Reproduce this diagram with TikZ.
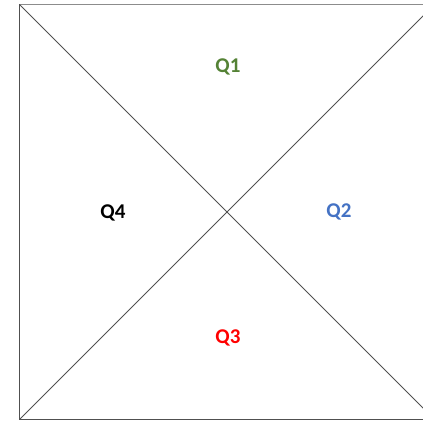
\documentclass[tikz,border=0pt]{standalone}
\usepackage{fontspec}
\setmainfont{Carlito}
\definecolor{qgreen}{HTML}{548235}
\definecolor{qblue}{HTML}{4472C4}
\definecolor{qred}{HTML}{FF0000}
\definecolor{edgegray}{HTML}{505050}
\definecolor{topgray}{HTML}{8C8C8C}
\begin{document}
\begin{tikzpicture}[x=1pt,y=1pt,
  qlabel/.style={font=\fontsize{21}{24}\selectfont\bfseries, inner sep=0pt},
  edge/.style={draw=edgegray, line width=1pt}]
\useasboundingbox (0,0) rectangle (423,421);
\clip (0,0) rectangle (423,421);
\coordinate (TL) at (19.5,416.5);
\coordinate (BL) at (19.5,1.5);
\coordinate (TR) at (434.5,416.5);
\coordinate (BR) at (434.5,1.5);
\draw[draw=topgray, line width=1.3pt] (TL) -- (TR);
\draw[edge] (TL) -- (BL) -- (BR);
\draw[edge] (TL) -- (BR);
\draw[edge] (BL) -- (TR);
\node[qlabel, text=qgreen] (q1) at (228,354) {Q1};
\node[qlabel, text=qblue] (q2) at (339,209) {Q2};
\node[qlabel, text=qred] (q3) at (228,83) {Q3};
\node[qlabel, text=black] (q4) at (113,208) {Q4};
\end{tikzpicture}
\end{document}
